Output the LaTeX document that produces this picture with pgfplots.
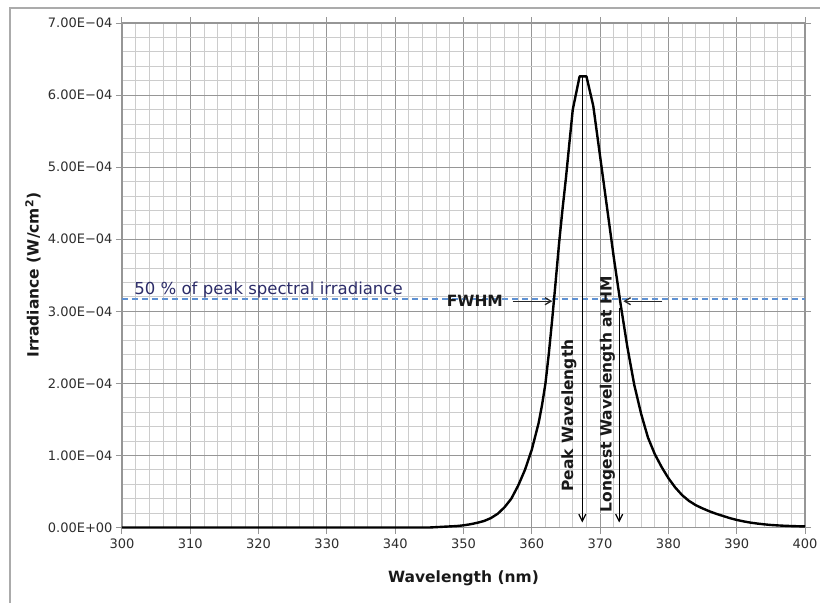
\documentclass[border=0pt]{standalone}
\usepackage{fontspec}
\setmainfont{DejaVu Sans}
\usepackage{pgfplots}
\pgfplotsset{compat=1.18}
\usetikzlibrary{arrows.meta}
\definecolor{majgrid}{RGB}{150,150,150}
\definecolor{mingrid}{RGB}{204,204,204}
\definecolor{halfblue}{RGB}{95,145,210}
\definecolor{navytext}{RGB}{45,45,105}
\definecolor{ticktext}{RGB}{45,45,45}

\begin{document}
\begin{tikzpicture}
\path[use as bounding box] (0,0) rectangle (820pt,603pt);
\draw[majgrid!80,line width=1.3pt] (10pt,0) -- (10pt,595pt) -- (820pt,595pt);
\begin{axis}[
    at={(122pt,75.5pt)}, anchor=south west,
    scale only axis, width=683pt, height=504.5pt,
    xmin=300, xmax=400, ymin=0, ymax=7e-4,
    xtick={300,310,...,400},
    ytick={0,1e-4,2e-4,3e-4,4e-4,5e-4,6e-4,7e-4},
    yticklabels={0.00E+00,1.00E−04,2.00E−04,3.00E−04,4.00E−04,5.00E−04,6.00E−04,7.00E−04},
    scaled y ticks=false,
    minor x tick num=4, minor y tick num=4,
    grid=both,
    major grid style={majgrid,line width=1.1pt},
    minor grid style={mingrid,line width=0.8pt},
    axis line style={majgrid,line width=1.1pt},
    tick align=outside, major tick length=6pt, minor tick length=0pt,
    tick style={majgrid,line width=1pt},
    ticklabel style={font=\fontsize{13}{15}\selectfont,text=ticktext},
    /pgf/number format/assume math mode=true,
    xticklabel style={yshift=-2pt},
    xlabel={Wavelength (nm)},
    ylabel={Irradiance (W/cm\textsuperscript{2})},
    every axis x label/.style={at={(axis description cs:0.5,0)},yshift=-51pt,anchor=center,
        font=\bfseries\fontsize{15.5}{18}\selectfont,text=black!90},
    every axis y label/.style={at={(axis description cs:0,0.5)},xshift=-89pt,rotate=90,anchor=center,
        font=\bfseries\fontsize{15.5}{18}\selectfont,text=black!90},
    clip=false,
]
% 50 % line
\draw[halfblue,line width=1.6pt,dash pattern=on 6pt off 4pt] (axis cs:300,3.17e-4) -- (axis cs:400,3.17e-4);
\node[anchor=base west,text=navytext,font=\fontsize{16.5}{19}\selectfont,inner sep=0pt]
    at (axis cs:301.8,3.23e-4) {50 \% of peak spectral irradiance};

\addplot[black,line width=2.4pt,line join=round,mark=none] coordinates {
(300,0) (345,0) (346,0.5e-6) (347,1e-6) (348,1.5e-6) (349,2e-6) (350,3e-6)
(351,4.5e-6) (352,6.5e-6) (353,9e-6) (354,1.3e-5) (355,1.9e-5) (356,2.8e-5)
(357,4.0e-5) (358,5.8e-5) (359,8.0e-5) (360,1.08e-4) (361,1.45e-4) (361.5,1.7e-4)
(362,2.0e-4) (362.5,2.42e-4) (363,2.9e-4) (363.5,3.42e-4) (364,3.95e-4)
(364.5,4.42e-4) (365,4.85e-4) (365.5,5.33e-4) (366,5.8e-4) (367,6.26e-4) (368,6.26e-4)
(369,5.85e-4) (370,5.15e-4) (371,4.45e-4) (372,3.75e-4) (373,3.1e-4) (374,2.5e-4)
(375,1.98e-4) (376,1.58e-4) (377,1.25e-4) (378,1.02e-4) (379,8.4e-5) (380,6.85e-5)
(381,5.55e-5) (382,4.5e-5) (383,3.7e-5) (384,3.1e-5) (385,2.65e-5) (386,2.25e-5)
(387,1.9e-5) (388,1.6e-5) (389,1.3e-5) (390,1.05e-5) (391,8.5e-6) (392,6.8e-6)
(393,5.5e-6) (394,4.4e-6) (395,3.5e-6) (396,2.9e-6) (397,2.4e-6) (398,2e-6)
(399,1.7e-6) (400,1.5e-6)
};

% arrows
\draw[black,line width=1.2pt,-{Straight Barb[length=7pt,width=7pt]}] (axis cs:367.4,6.26e-4) -- (axis cs:367.4,0.07e-4);
\draw[black,line width=1.2pt,-{Straight Barb[length=7pt,width=7pt]}] (axis cs:372.8,3.05e-4) -- (axis cs:372.8,0.07e-4);
\node[rotate=90,font=\bfseries\fontsize{15.5}{18}\selectfont,text=black!90,inner sep=0pt]
    at (axis cs:365.45,1.554e-4) {Peak Wavelength};
\node[rotate=90,font=\bfseries\fontsize{15.5}{18}\selectfont,text=black!90,inner sep=0pt]
    at (axis cs:371.08,1.853e-4) {Longest Wavelength at HM};
\node[anchor=east,font=\bfseries\fontsize{15.5}{18}\selectfont,text=black!90,inner sep=0pt]
    at (axis cs:355.8,3.14e-4) {FWHM};
\draw[black!85,line width=1.3pt,-{Straight Barb[length=6pt,width=7pt]}] (axis cs:357.2,3.14e-4) -- (axis cs:363.0,3.14e-4);
\draw[black!85,line width=1.3pt,-{Straight Barb[length=6pt,width=7pt]}] (axis cs:379.1,3.14e-4) -- (axis cs:373.4,3.14e-4);
\end{axis}
\end{tikzpicture}
\end{document}
